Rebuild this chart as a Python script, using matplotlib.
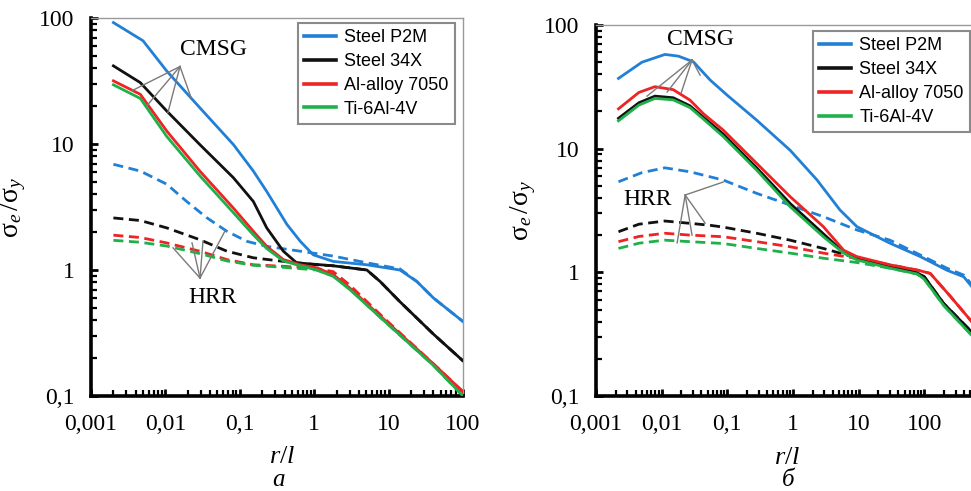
import matplotlib
matplotlib.use("Agg")
import matplotlib.pyplot as plt
from matplotlib.ticker import FixedLocator, FixedFormatter, LogLocator, NullFormatter

plt.rcParams['mathtext.fontset'] = 'custom'
plt.rcParams['mathtext.rm'] = 'Liberation Serif'
plt.rcParams['mathtext.it'] = 'Liberation Serif:italic'

# ---------------- data ----------------
materials = ["Steel P2M", "Steel 34X", "Al-alloy 7050", "Ti-6Al-4V"]
colors = ["#2180d6", "#111111", "#ee2424", "#20b04a"]

xtick_vals = [0.001, 0.01, 0.1, 1, 10, 100]
xtick_labels = ["0,001", "0,01", "0,1", "1", "10", "100"]
ytick_vals = [0.1, 1, 10, 100]
ytick_labels = ["0,1", "1", "10", "100"]

# panel a, CMSG (solid)
a_p2m_x = [0.002, 0.005, 0.0104, 0.029, 0.082, 0.152, 0.23, 0.43, 0.65, 0.97, 1.8, 5.1, 14.2, 24, 40, 100]
a_p2m_y = [92, 66, 38, 19.4, 9.9, 6.1, 4.2, 2.3, 1.69, 1.32, 1.17, 1.1, 1.0, 0.81, 0.6, 0.39]
a_34x_x = [0.002, 0.0046, 0.0104, 0.029, 0.082, 0.152, 0.23, 0.385, 0.58, 1.8, 5.1, 7.7, 14.2, 40, 100]
a_34x_y = [41.7, 30.7, 18.3, 9.9, 5.4, 3.5, 2.16, 1.41, 1.14, 1.08, 1.0, 0.81, 0.56, 0.31, 0.19]
a_al_x = [0.002, 0.0046, 0.0104, 0.029, 0.082, 0.152, 0.23, 0.385, 0.65, 1.08, 1.8, 3.0, 8.5, 40, 100]
a_al_y = [31.7, 24.8, 12.7, 6.1, 3.1, 2.03, 1.54, 1.21, 1.1, 1.04, 0.92, 0.72, 0.41, 0.18, 0.108]
a_ti_x = a_al_x
a_ti_y = [29.5, 23, 11.5, 5.6, 2.85, 1.9, 1.48, 1.18, 1.08, 1.0, 0.89, 0.7, 0.4, 0.175, 0.1]

# panel a, HRR (dashed)
a_p2m_hrr_x = [0.002, 0.0046, 0.0104, 0.0193, 0.036, 0.067, 0.124, 0.23, 0.65, 1.8, 5.1, 14.2, 24, 40, 100]
a_p2m_hrr_y = [6.9, 6.1, 4.8, 3.5, 2.6, 2.03, 1.69, 1.54, 1.41, 1.29, 1.14, 1.02, 0.81, 0.6, 0.39]
a_34x_hrr_x = [0.002, 0.0046, 0.0104, 0.029, 0.067, 0.152, 0.385, 1.08, 1.8, 5.1, 7.7, 14.2, 40, 100]
a_34x_hrr_y = [2.59, 2.47, 2.16, 1.74, 1.41, 1.25, 1.17, 1.1, 1.08, 1.0, 0.81, 0.56, 0.31, 0.19]
a_al_hrr_x = [0.002, 0.0046, 0.0104, 0.029, 0.067, 0.152, 0.385, 1.08, 1.8, 3.0, 8.5, 40, 100]
a_al_hrr_y = [1.89, 1.81, 1.64, 1.41, 1.21, 1.1, 1.07, 1.03, 0.97, 0.76, 0.42, 0.18, 0.108]
a_ti_hrr_x = a_al_hrr_x
a_ti_hrr_y = [1.72, 1.66, 1.55, 1.35, 1.18, 1.09, 1.05, 1.0, 0.9, 0.71, 0.4, 0.175, 0.1]

# panel b, CMSG (solid)
b_p2m_x = [0.0022, 0.005, 0.0112, 0.018, 0.0304, 0.0547, 0.1, 0.28, 0.906, 2.31, 5.2, 9.4, 30, 87, 221, 398, 525, 1000]
b_p2m_y = [37, 50, 57.8, 56, 50.4, 35.9, 27, 17, 9.7, 5.6, 3.19, 2.34, 1.72, 1.34, 1.04, 0.92, 0.77, 0.45]
b_34x_x = [0.0022, 0.0045, 0.0079, 0.015, 0.027, 0.044, 0.087, 0.28, 0.906, 2.9, 5.9, 9.4, 30, 78, 100, 197, 525, 1000]
b_34x_y = [17.6, 23.5, 26.6, 25.8, 22.2, 17.8, 13.1, 7.0, 3.6, 2.05, 1.45, 1.3, 1.12, 0.99, 0.92, 0.56, 0.33, 0.23]
b_al_x = [0.0022, 0.0045, 0.0079, 0.015, 0.027, 0.044, 0.087, 0.28, 0.906, 2.9, 5.9, 9.4, 30, 80, 123, 249, 525, 1000]
b_al_y = [21, 28.5, 31.7, 30, 24.7, 19, 14.1, 7.6, 4.09, 2.34, 1.51, 1.34, 1.15, 1.04, 0.98, 0.64, 0.4, 0.28]
b_ti_x = b_34x_x
b_ti_y = [16.8, 22.5, 25.5, 24.8, 21.5, 17.2, 12.5, 6.7, 3.39, 1.94, 1.43, 1.26, 1.08, 0.97, 0.88, 0.54, 0.31, 0.22]

# panel b, HRR (dashed)
b_p2m_hrr_x = [0.0022, 0.005, 0.0112, 0.027, 0.087, 0.28, 0.906, 2.9, 9.4, 30, 87, 221, 398, 525, 1000]
b_p2m_hrr_y = [5.4, 6.4, 7.0, 6.5, 5.57, 4.35, 3.5, 2.82, 2.2, 1.82, 1.38, 1.08, 0.95, 0.8, 0.45]
b_34x_hrr_x = [0.0022, 0.0045, 0.0112, 0.027, 0.055, 0.087, 0.28, 0.906, 2.9, 6.6, 9.4, 30, 78, 100, 197, 525, 1000]
b_34x_hrr_y = [2.13, 2.45, 2.6, 2.49, 2.4, 2.32, 2.07, 1.82, 1.56, 1.38, 1.3, 1.12, 0.99, 0.92, 0.56, 0.33, 0.23]
b_al_hrr_x = [0.0022, 0.0045, 0.0112, 0.027, 0.087, 0.28, 0.906, 2.9, 7.5, 12, 30, 80, 123, 249, 525, 1000]
b_al_hrr_y = [1.77, 1.95, 2.07, 2.0, 1.94, 1.77, 1.61, 1.43, 1.32, 1.27, 1.15, 1.04, 0.98, 0.64, 0.4, 0.28]
b_ti_hrr_x = [0.0022, 0.0045, 0.0112, 0.027, 0.087, 0.28, 0.906, 2.9, 7.5, 9.4, 30, 78, 100, 197, 525, 1000]
b_ti_hrr_y = [1.56, 1.72, 1.82, 1.77, 1.71, 1.56, 1.43, 1.3, 1.22, 1.2, 1.08, 0.97, 0.88, 0.54, 0.31, 0.22]

# annotation pointers (apex, then ends)
a_cmsg_apex = (0.0157, 41.2)
a_cmsg_ends = [(0.00356, 26.5), (0.00566, 20.2), (0.0108, 17.7), (0.0221, 23.4)]
a_hrr_apex = (0.0292, 0.863)
a_hrr_ends = [(0.01265, 1.50), (0.0228, 1.64), (0.032, 1.70), (0.0632, 2.04)]
b_cmsg_apex = (0.029, 52.1)
b_cmsg_ends = [(0.0385, 39.3), (0.00598, 26.6), (0.0121, 28.7), (0.0198, 28.2)]
b_hrr_apex = (0.0228, 4.22)
b_hrr_ends = [(0.0863, 5.37), (0.0172, 1.73), (0.029, 2.0), (0.0459, 2.5)]

# ---------------- plotting ----------------
SERIF = "Liberation Serif"
SANS = "Liberation Sans"
LW = 2.0
DASH = (0, (3.6, 2.0))

fig = plt.figure(figsize=(9.71, 4.91), dpi=100)
ax1 = fig.add_axes([91 / 971, 1 - 396 / 491, 372 / 971, 378 / 491])
ax2 = fig.add_axes([596 / 971, 1 - 396 / 491, 394 / 971, 371 / 491])

panels = [
    (ax1,
     [(a_p2m_x, a_p2m_y), (a_34x_x, a_34x_y), (a_al_x, a_al_y), (a_ti_x, a_ti_y)],
     [(a_p2m_hrr_x, a_p2m_hrr_y), (a_34x_hrr_x, a_34x_hrr_y), (a_al_hrr_x, a_al_hrr_y), (a_ti_hrr_x, a_ti_hrr_y)],
     (0.001, 100)),
    (ax2,
     [(b_p2m_x, b_p2m_y), (b_34x_x, b_34x_y), (b_al_x, b_al_y), (b_ti_x, b_ti_y)],
     [(b_p2m_hrr_x, b_p2m_hrr_y), (b_34x_hrr_x, b_34x_hrr_y), (b_al_hrr_x, b_al_hrr_y), (b_ti_hrr_x, b_ti_hrr_y)],
     (0.001, 1000)),
]

for ax, solid, dashed, xlim in panels:
    ax.set_xscale('log')
    ax.set_yscale('log')
    ax.set_xlim(*xlim)
    ax.set_ylim(0.1, 100)
    for (x, y), c in zip(dashed, colors):
        ax.plot(x, y, color=c, lw=LW, linestyle=DASH, zorder=2)
    for (x, y), c, name in zip(solid, colors, materials):
        ax.plot(x, y, color=c, lw=LW, zorder=3, label=name)
    for s in ['left', 'bottom']:
        ax.spines[s].set_linewidth(2.6)
        ax.spines[s].set_color('black')
    for s in ['top', 'right']:
        ax.spines[s].set_linewidth(1.0)
        ax.spines[s].set_color('#9a9a9a')
    ax.xaxis.set_major_locator(FixedLocator(xtick_vals))
    ax.xaxis.set_major_formatter(FixedFormatter(xtick_labels))
    ax.yaxis.set_major_locator(FixedLocator(ytick_vals))
    ax.yaxis.set_major_formatter(FixedFormatter(ytick_labels))
    ax.xaxis.set_minor_locator(LogLocator(base=10, subs=range(2, 10), numticks=20))
    ax.yaxis.set_minor_locator(LogLocator(base=10, subs=range(2, 10), numticks=20))
    ax.xaxis.set_minor_formatter(NullFormatter())
    ax.yaxis.set_minor_formatter(NullFormatter())
    ax.tick_params(which='both', direction='in', top=False, right=False, color='black')
    ax.tick_params(which='major', length=5, width=2.0)
    ax.tick_params(which='minor', length=4, width=1.6)
    ax.tick_params(axis='y', which='major', pad=12)
    ax.tick_params(axis='x', which='major', pad=13)
    for lab in ax.get_xticklabels() + ax.get_yticklabels():
        lab.set_fontfamily(SERIF)
        lab.set_fontsize(17)
    ax.set_ylabel(r'$\mathrm{σ}_{\mathit{e}}\,/\mathrm{σ}_{\mathit{y}}$', fontsize=20)

ax1.yaxis.set_label_coords(-0.169, 0.5)
ax2.yaxis.set_label_coords(-0.147, 0.5)

ax1.text(0.513, -0.177, r'$\mathit{r}/\mathit{l}$', transform=ax1.transAxes, ha='center',
         va='baseline', fontsize=19)
ax2.text(0.485, -0.183, r'$\mathit{r}/\mathit{l}$', transform=ax2.transAxes, ha='center',
         va='baseline', fontsize=19)
ax1.text(0.503, -0.238, 'а', transform=ax1.transAxes, ha='center', va='baseline',
         fontsize=18, family=SERIF, style='italic')
ax2.text(0.487, -0.243, 'б', transform=ax2.transAxes, ha='center', va='baseline',
         fontsize=18, family=SERIF, style='italic')

# legends
leg_kw = dict(frameon=True, fancybox=False, edgecolor='#8a8a8a', framealpha=1,
              borderpad=0.35, handlelength=1.75, handletextpad=0.45, labelspacing=0.38,
              borderaxespad=0, prop={'family': SANS, 'size': 13})
l1 = ax1.legend(loc='upper right', bbox_to_anchor=(0.978, 0.987), **leg_kw)
l2 = ax2.legend(loc='upper left', bbox_to_anchor=(0.551, 0.984), **leg_kw)
for lg in (l1, l2):
    lg.get_frame().set_linewidth(1.5)
    for ln in lg.get_lines():
        ln.set_linewidth(2.6)

# annotations
def pointer(ax, apex, ends, label, lpos):
    for e in ends:
        ax.plot([apex[0], e[0]], [apex[1], e[1]], color='#7a7a7a', lw=1.0, zorder=4)
    ax.text(lpos[0], lpos[1], label, ha='center', va='center', fontsize=17, family=SERIF, zorder=5)

pointer(ax1, a_cmsg_apex, a_cmsg_ends, 'CMSG', (0.0437, 56))
pointer(ax1, a_hrr_apex, a_hrr_ends, 'HRR', (0.0437, 0.6))
pointer(ax2, b_cmsg_apex, b_cmsg_ends, 'CMSG', (0.0385, 76))
pointer(ax2, b_hrr_apex, b_hrr_ends, 'HRR', (0.0062, 3.9))

fig.savefig('out.png', dpi=100)
